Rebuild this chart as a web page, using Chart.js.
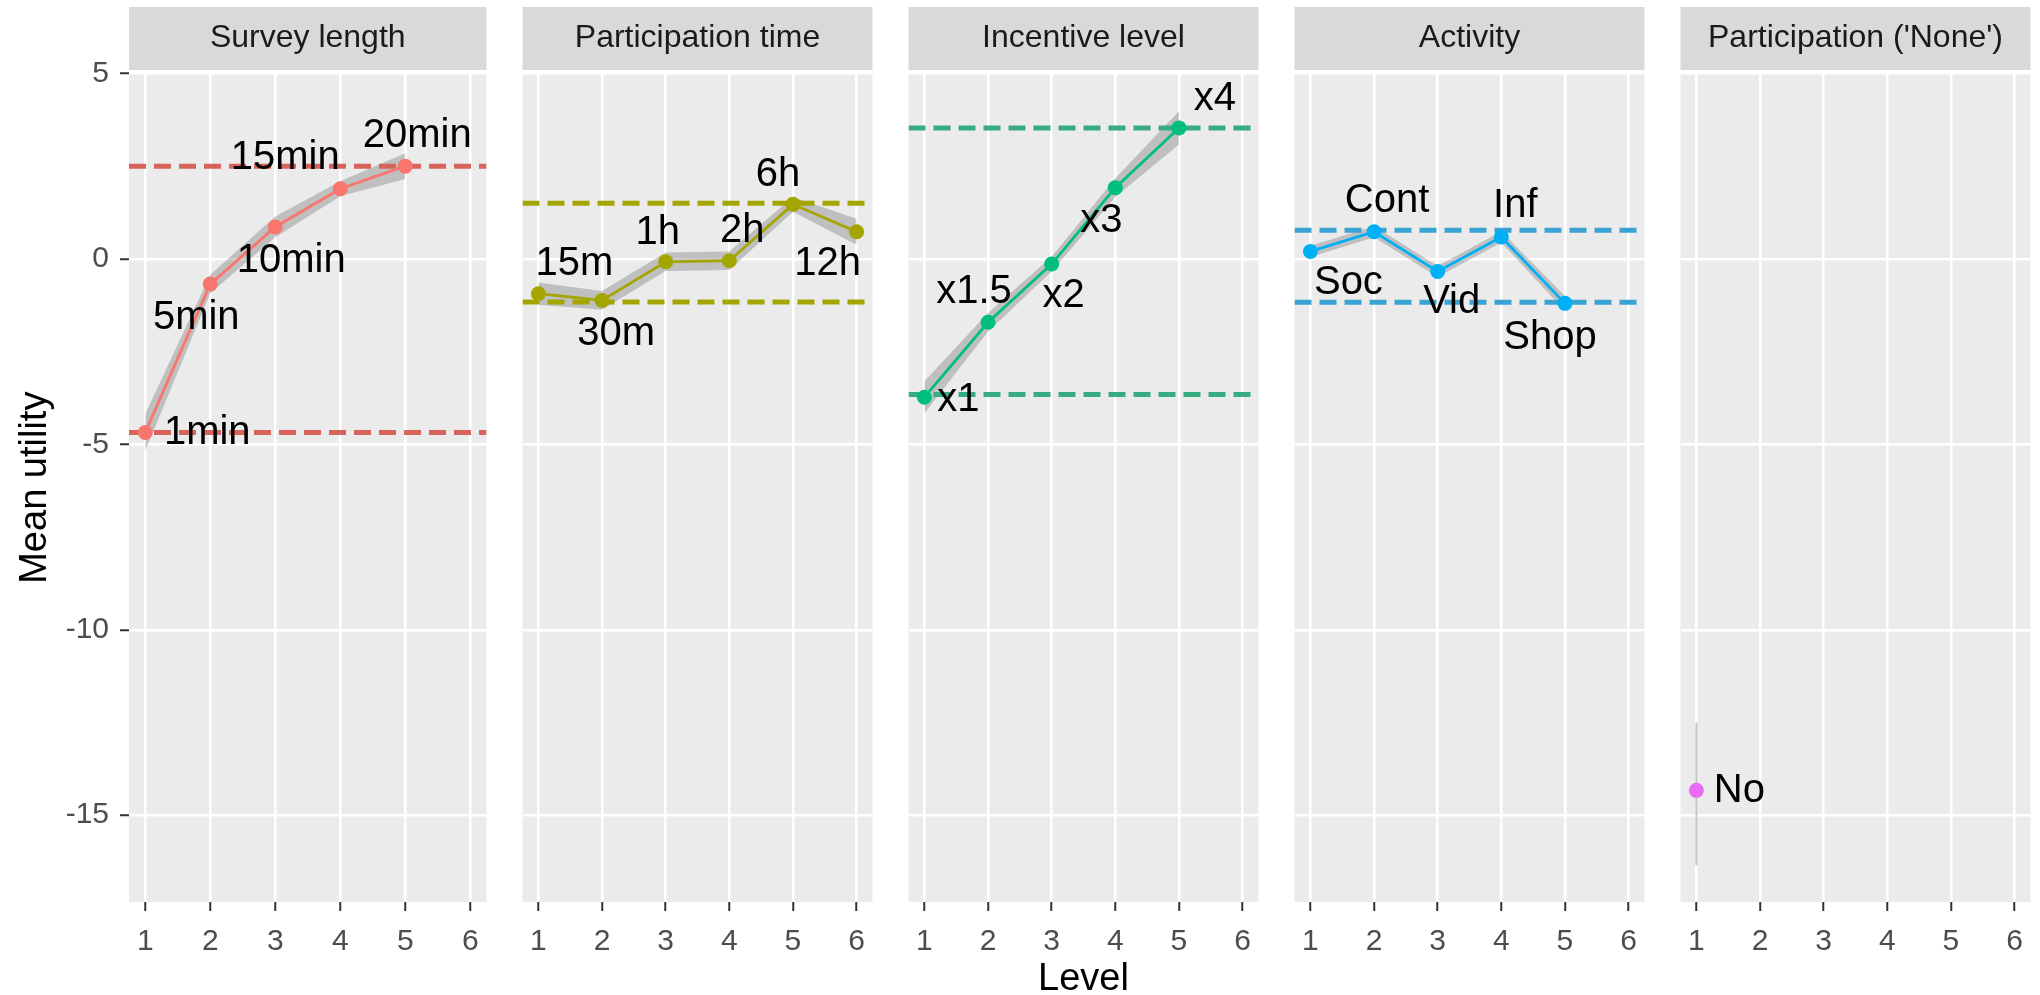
<!DOCTYPE html>
<html>
<head>
<meta charset="utf-8">
<script src="https://cdn.jsdelivr.net/npm/chart.js@4.4.1/dist/chart.umd.min.js"></script>
<style>
html, body { margin: 0; padding: 0; background: #fff; }
#wrap { position: relative; width: 2040px; height: 995px; overflow: hidden; }
#wrap canvas { position: absolute; top: 0; }
</style>
</head>
<body>
<div id="wrap">
  <canvas id="p0" width="494" height="995" style="left:0px"></canvas>
  <canvas id="p1" width="365" height="995" style="left:515px"></canvas>
  <canvas id="p2" width="365" height="995" style="left:901px"></canvas>
  <canvas id="p3" width="365" height="995" style="left:1287px"></canvas>
  <canvas id="p4" width="365" height="995" style="left:1673px"></canvas>
</div>
<script>
// facet titles and shared axes
var panelTitles = ['Survey length', 'Participation time', 'Incentive level', 'Activity', "Participation ('None')"];
var levels = [1, 2, 3, 4, 5, 6];
var yTicks = [-15, -10, -5, 0, 5];

// survey length
var surveyLabels = ['1min', '5min', '10min', '15min', '20min'];
var surveyUtility = [-4.68, -0.68, 0.86, 1.89, 2.50];
var surveyBand = [0.5, 0.25, 0.28, 0.2, 0.35];
var surveyRange = [-4.68, 2.50];

// participation time
var timeLabels = ['15m', '30m', '1h', '2h', '6h', '12h'];
var timeUtility = [-0.94, -1.12, -0.08, -0.05, 1.47, 0.73];
var timeBand = [0.3, 0.25, 0.25, 0.25, 0.2, 0.35];
var timeRange = [-1.16, 1.50];

// incentive level
var incentiveLabels = ['x1', 'x1.5', 'x2', 'x3', 'x4'];
var incentiveUtility = [-3.73, -1.71, -0.14, 1.92, 3.53];
var incentiveBand = [0.43, 0.25, 0.2, 0.25, 0.45];
var incentiveRange = [-3.66, 3.53];

// activity
var activityLabels = ['Soc', 'Cont', 'Vid', 'Inf', 'Shop'];
var activityUtility = [0.20, 0.73, -0.34, 0.59, -1.20];
var activityBand = [0.15, 0.15, 0.15, 0.15, 0.2];
var activityRange = [-1.17, 0.77];

// participation ('None')
var noneLabels = ['No'];
var noneUtility = [-14.33];
var noneLow = [-16.35];
var noneHigh = [-12.5];

// label placement (pixels from the point to the label centre)
var surveyNudge = [[62, 1], [-14, 34], [16, 34], [-55, -31], [12, -30]];
var timeNudge = [[36, -30], [14, 34], [-8, -29], [13, -30], [-15, -29], [-29, 32]];
var incentiveNudge = [[34, 3], [-14, -30], [12, 32], [-14, 33], [36, -29]];
var activityNudge = [[38, 32], [13, -31], [14, 31], [14, -31], [-15, 35]];
var noneNudge = [[43, 1]];

Chart.defaults.font.family = "'Liberation Sans', Arial, sans-serif";

var panels = [
    { title: panelTitles[0], color: '#F8766D', dash: '#D6645B', labels: surveyLabels, values: surveyUtility, band: surveyBand, range: surveyRange, nudge: surveyNudge },
    { title: panelTitles[1], color: '#A3A500', dash: '#A3A500', labels: timeLabels, values: timeUtility, band: timeBand, range: timeRange, nudge: timeNudge },
    { title: panelTitles[2], color: '#00BF7D', dash: '#36AC80', labels: incentiveLabels, values: incentiveUtility, band: incentiveBand, range: incentiveRange, nudge: incentiveNudge },
    { title: panelTitles[3], color: '#00B0F6', dash: '#3AA3D3', labels: activityLabels, values: activityUtility, band: activityBand, range: activityRange, nudge: activityNudge },
    { title: panelTitles[4], color: '#E76BF3', labels: noneLabels, values: noneUtility, low: noneLow, high: noneHigh, nudge: noneNudge }
];

// grey panel and strip behind everything
var panelBg = {
    id: 'panelBg',
    beforeDraw: function (chart) {
        var a = chart.chartArea;
        var ctx = chart.ctx;
        ctx.save();
        ctx.fillStyle = '#EBEBEB';
        ctx.fillRect(a.left, a.top, a.right - a.left, a.bottom - a.top);
        ctx.fillStyle = '#D9D9D9';
        ctx.fillRect(a.left, 7, a.right - a.left, 63);
        ctx.restore();
    }
};

// level names next to points
var pointLabels = {
    id: 'pointLabels',
    afterDatasetsDraw: function (chart) {
        var p = chart.options.plugins.pointLabels;
        var meta = chart.getDatasetMeta(0);
        var ctx = chart.ctx;
        ctx.save();
        ctx.font = '40px ' + Chart.defaults.font.family;
        ctx.fillStyle = '#000';
        ctx.textAlign = 'center';
        ctx.textBaseline = 'middle';
        for (var i = 0; i < meta.data.length; i++) {
            var el = meta.data[i];
            ctx.fillText(p.labels[i], el.x + p.nudge[i][0], el.y + p.nudge[i][1]);
        }
        ctx.restore();
    }
};

var toPoints = function (values, shift, sign) {
    var out = [];
    for (var j = 0; j < values.length; j++) {
        var d = shift ? shift[j] * sign : 0;
        out.push({ x: levels[j], y: values[j] + d });
    }
    return out;
};

var makePanel = function (i) {
    var p = panels[i];
    var datasets = [{
        data: toPoints(p.values),
        borderColor: p.color,
        backgroundColor: p.color,
        borderWidth: 2.8,
        pointRadius: 7.5,
        pointBorderWidth: 0,
        showLine: p.values.length > 1,
        order: 0
    }];

    if (p.range) {
        for (var k = 0; k < 2; k++) {
            datasets.push({
                data: [{ x: 0.75, y: p.range[k] }, { x: 6.25, y: p.range[k] }],
                borderColor: p.dash,
                borderWidth: 5,
                borderDash: [17, 8],
                pointRadius: 0,
                order: 1
            });
        }
        datasets.push({
            data: toPoints(p.values, p.band, 1),
            borderWidth: 0,
            pointRadius: 0,
            order: 2
        });
        datasets.push({
            data: toPoints(p.values, p.band, -1),
            borderWidth: 0,
            pointRadius: 0,
            fill: '-1',
            backgroundColor: 'rgba(110,110,110,0.35)',
            order: 2
        });
    } else {
        datasets.push({
            data: [{ x: levels[0], y: p.low[0] }, { x: levels[0], y: p.high[0] }],
            borderColor: '#C4C4C4',
            borderWidth: 2,
            pointRadius: 0,
            order: 1
        });
    }

    var first = i === 0;
    var ctx = document.getElementById('p' + i);
    return new Chart(ctx, {
        type: 'line',
        data: { datasets: datasets },
        options: {
            responsive: false,
            animation: false,
            devicePixelRatio: 1,
            layout: { padding: { top: 7, left: 0, right: 0, bottom: 0 } },
            plugins: {
                legend: { display: false },
                tooltip: { enabled: false },
                title: {
                    display: true,
                    text: p.title,
                    fullSize: false,
                    color: '#1A1A1A',
                    font: { size: 32, weight: 'normal' },
                    padding: { top: 12, bottom: 16 }
                },
                pointLabels: { labels: p.labels, nudge: p.nudge }
            },
            scales: {
                x: {
                    type: 'linear',
                    min: 0.75,
                    max: 6.25,
                    afterBuildTicks: function (scale) {
                        scale.ticks = levels.map(function (v) { return { value: v }; });
                    },
                    afterFit: function (scale) { scale.height = 93; },
                    ticks: { color: '#4D4D4D', font: { size: 30 }, padding: 13, maxRotation: 0 },
                    grid: { color: '#FFFFFF', lineWidth: 2.5, tickColor: '#333333', tickLength: 9, tickWidth: 2 },
                    border: { display: false },
                    title: {
                        display: i === 2,
                        text: 'Level',
                        color: '#000',
                        font: { size: 38, lineHeight: 0.8 },
                        padding: { top: 0, bottom: 0 }
                    }
                },
                y: {
                    min: -17.34,
                    max: 5,
                    afterBuildTicks: function (scale) {
                        scale.ticks = yTicks.map(function (v) { return { value: v }; });
                    },
                    afterFit: function (scale) { scale.width = first ? 129 : 0; },
                    ticks: { display: first, color: '#4D4D4D', font: { size: 30 }, padding: 11 },
                    grid: { color: '#FFFFFF', lineWidth: 2.5, drawTicks: first, tickColor: '#333333', tickLength: 9, tickWidth: 2 },
                    border: { display: false },
                    title: {
                        display: first,
                        text: 'Mean utility',
                        color: '#000',
                        font: { size: 38 },
                        padding: { top: 13, bottom: 0 }
                    }
                }
            }
        },
        plugins: [panelBg, pointLabels]
    });
};

for (var i = 0; i < panels.length; i++) {
    makePanel(i);
}
</script>
</body>
</html>
